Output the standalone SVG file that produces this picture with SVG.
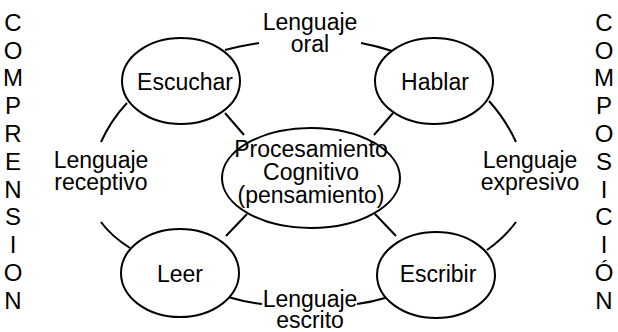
<svg xmlns="http://www.w3.org/2000/svg" width="618" height="332" viewBox="0 0 618 332">
<style>
text{font-family:"Liberation Sans",Arial,sans-serif;font-size:23px;fill:#000;text-anchor:middle}
.n ellipse{fill:#fff;stroke:#000;stroke-width:2}
#connectors path,#connectors line{fill:none;stroke:#000;stroke-width:2}
.col text{font-size:24px}
</style>
<rect width="618" height="332" fill="#fff"/>
<g id="connectors">
<path d="M225,50 Q240,46 259,43"/>
<path d="M361,43 Q377,46 392,51"/>
<path d="M127,103 Q111,120 101,142"/>
<path d="M101,222 Q111,236 130,248"/>
<path d="M489,101 Q506,120 516,142"/>
<path d="M516,222 Q505,237 487,250"/>
<path d="M228,297 Q245,302 262,304"/>
<path d="M357,304 Q372,302 385,298"/>
<line x1="225" y1="113" x2="244" y2="135"/>
<line x1="393" y1="113" x2="374" y2="135"/>
<line x1="247" y1="214" x2="226" y2="236"/>
<line x1="375" y1="214" x2="396" y2="236"/>
</g>
<g id="escuchar" class="n"><ellipse cx="181" cy="81" rx="59" ry="43"/><text x="185" y="90">Escuchar</text></g>
<g id="hablar" class="n"><ellipse cx="434" cy="81" rx="59" ry="43"/><text x="435" y="90">Hablar</text></g>
<g id="leer" class="n"><ellipse cx="180" cy="273" rx="59" ry="44"/><text x="180" y="282">Leer</text></g>
<g id="escribir" class="n"><ellipse cx="436" cy="275" rx="59" ry="43"/><text x="438" y="282">Escribir</text></g>
<g id="procesamiento" class="n"><ellipse cx="311" cy="178" rx="89" ry="50"/><text x="311" y="157">Procesamiento</text><text x="311" y="180">Cognitivo</text><text x="311" y="203">(pensamiento)</text></g>
<g id="lenguaje-oral"><text x="310" y="30">Lenguaje</text><text x="310" y="52">oral</text></g>
<g id="lenguaje-receptivo"><text x="101" y="168">Lenguaje</text><text x="101" y="190">receptivo</text></g>
<g id="lenguaje-expresivo"><text x="530" y="168">Lenguaje</text><text x="530" y="190">expresivo</text></g>
<g id="lenguaje-escrito"><text x="310" y="307">Lenguaje</text><text x="310" y="328">escrito</text></g>
<g id="comprension" class="col">
<text x="13" y="31">C</text><text x="13" y="59">O</text><text x="13" y="86">M</text><text x="13" y="114">P</text><text x="13" y="142">R</text><text x="13" y="170">E</text><text x="13" y="198">N</text><text x="13" y="225">S</text><text x="13" y="253">I</text><text x="13" y="281">O</text><text x="13" y="309">N</text>
</g>
<g id="composicion" class="col">
<text x="604" y="31">C</text><text x="604" y="59">O</text><text x="604" y="86">M</text><text x="604" y="114">P</text><text x="604" y="142">O</text><text x="604" y="170">S</text><text x="604" y="198">I</text><text x="604" y="225">C</text><text x="604" y="253">I</text><text x="604" y="281">Ó</text><text x="604" y="309">N</text>
</g>
</svg>
